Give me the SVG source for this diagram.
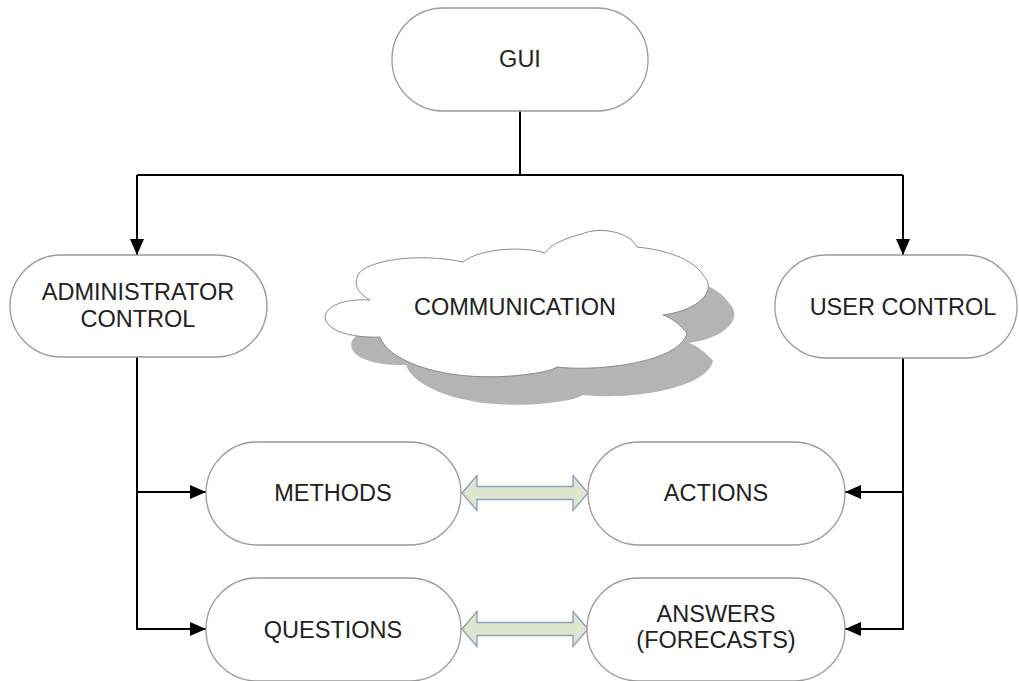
<svg xmlns="http://www.w3.org/2000/svg" width="1019" height="681" viewBox="0 0 1019 681">
<style>
.node{fill:#fff;stroke:#9a9a9a;stroke-width:1.3}
.t{font-family:"Liberation Sans",Arial,sans-serif;font-size:23.5px;fill:#222;text-anchor:middle}
.c{fill:none;stroke:#000;stroke-width:2}
.dbl{fill:#dfe6cf;stroke:#8c9db6;stroke-width:1.3}
</style>
<defs>
<marker id="ah" markerWidth="16" markerHeight="14" refX="16" refY="7" orient="auto" markerUnits="userSpaceOnUse">
<path d="M0,0 L16,7 L0,14 Z" fill="#000"/>
</marker>
<path id="cloudp" d="M370,300 C335,298 318,312 328,324 C336,334 360,338 380,337 C388,362 450,385 530,374 C545,372 552,370 557,367 C600,372 680,362 687,333 C680,325 672,318 663,315 C700,310 718,290 703,275 C692,258 665,250 637,247 C630,232 600,226 582,234 C565,238 550,245 545,253 C525,246 480,248 463,262 C430,255 385,256 362,270 C352,280 355,292 370,300 Z"/>
</defs>
<rect width="1019" height="681" fill="#fff"/>
<g id="connectors">
<path class="c" d="M520,111 V175 M137,175 H903"/>
<path class="c" d="M137,175 V255" marker-end="url(#ah)"/>
<path class="c" d="M903,175 V255" marker-end="url(#ah)"/>
<path class="c" d="M137,357 V629 H206" marker-end="url(#ah)"/>
<path class="c" d="M137,492 H206" marker-end="url(#ah)"/>
<path class="c" d="M903,358 V629 H845" marker-end="url(#ah)"/>
<path class="c" d="M903,492 H845" marker-end="url(#ah)"/>
<path class="dbl" d="M462,493 L477,475.5 L477,486.5 L573,486.5 L573,475.5 L588,493 L573,510.5 L573,499.5 L477,499.5 L477,510.5 Z"/>
<path class="dbl" d="M462,629 L477,611.5 L477,622.5 L573,622.5 L573,611.5 L588,629 L573,646.5 L573,635.5 L477,635.5 L477,646.5 Z"/>
</g>
<g id="gui">
<rect class="node" x="392" y="8" width="256" height="103" rx="51"/>
<text class="t" x="520" y="67">GUI</text>
</g>
<g id="admin">
<rect class="node" x="10" y="255" width="257" height="102" rx="51"/>
<text class="t" x="138" y="300">ADMINISTRATOR</text>
<text class="t" x="138" y="327">CONTROL</text>
</g>
<g id="communication">
<use href="#cloudp" transform="translate(26,28)" fill="#b4b4b4"/>
<use href="#cloudp" fill="#fff" stroke="#8a8a8a" stroke-width="1"/>
<text class="t" x="515" y="315">COMMUNICATION</text>
</g>
<g id="user">
<rect class="node" x="775" y="255" width="242" height="103" rx="51"/>
<text class="t" x="903" y="315">USER CONTROL</text>
</g>
<g id="methods">
<rect class="node" x="206" y="442" width="255" height="103" rx="51"/>
<text class="t" x="333" y="501">METHODS</text>
</g>
<g id="actions">
<rect class="node" x="588" y="442" width="257" height="103" rx="51"/>
<text class="t" x="716" y="501">ACTIONS</text>
</g>
<g id="questions">
<rect class="node" x="206" y="578" width="255" height="103" rx="51"/>
<text class="t" x="333" y="638">QUESTIONS</text>
</g>
<g id="answers">
<rect class="node" x="587" y="578" width="258" height="103" rx="51"/>
<text class="t" x="716" y="622">ANSWERS</text>
<text class="t" x="716" y="648">(FORECASTS)</text>
</g>
</svg>
